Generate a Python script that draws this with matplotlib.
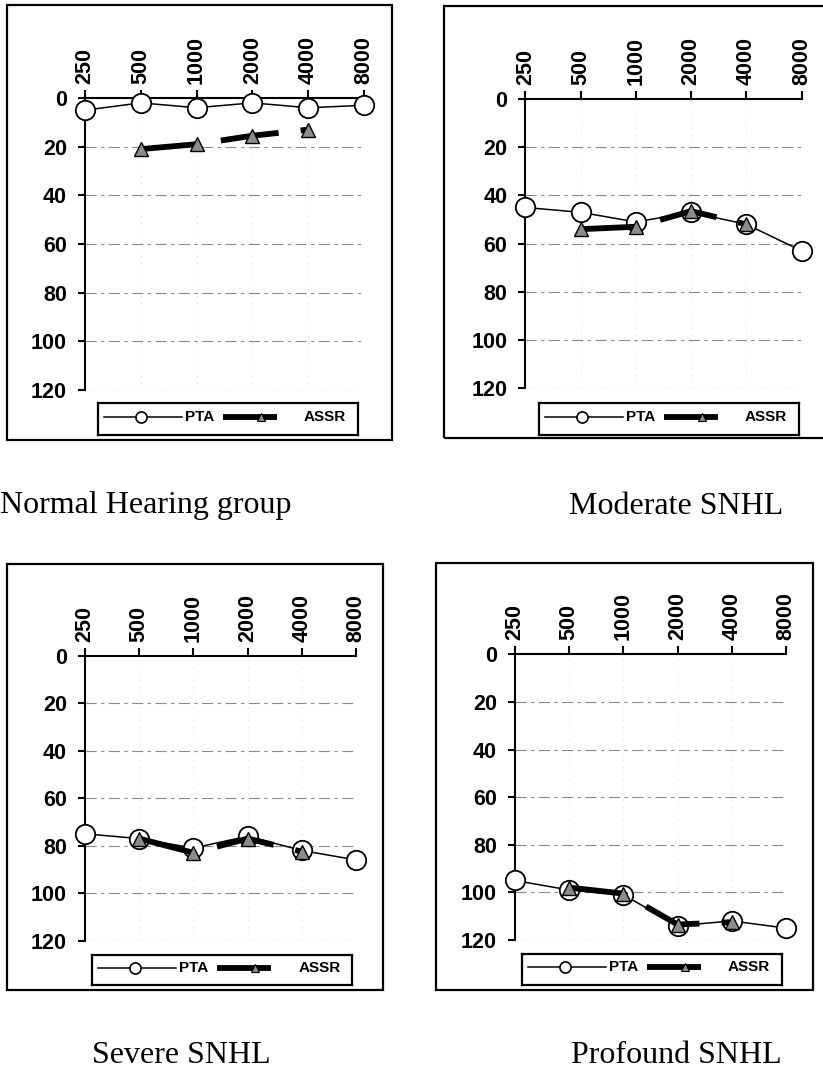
import numpy as np
import matplotlib
matplotlib.use("Agg")
import matplotlib.pyplot as plt
from matplotlib.patches import Rectangle

# ---------------- data ----------------
freqs = ['250', '500', '1000', '2000', '4000', '8000']
yticks = [0, 20, 40, 60, 80, 100, 120]

normal_pta = [5, 2, 4, 2, 4, 3]
normal_assr = [np.nan, 21, 19, 15.5, 13, np.nan]
moderate_pta = [45, 47, 51, 47, 52, 63]
moderate_assr = [np.nan, 54, 53, 46.5, 52, np.nan]
severe_pta = [75, 77, 81, 76, 82, 86]
severe_assr = [np.nan, 77, 83, 77, 82.5, np.nan]
profound_pta = [95, 99, 101, 114, 112, 115]
profound_assr = [np.nan, 98, 100.5, 113.5, 112.5, np.nan]

captions = ['Normal Hearing group', 'Moderate SNHL', 'Severe SNHL', 'Profound SNHL']
legend_labels = ['PTA', 'ASSR']

# ---------------- layout (pixels) ----------------
W, H = 823, 1070
def fx(p): return p / W
def fy(p): return 1 - p / H

panels = [
    dict(pta=normal_pta, assr=normal_assr, cap=captions[0],
         axes=(85, 98, 364, 390), box=(7, 5, 392, 440), leg=(98, 403, 358, 435),
         capxy=(0.5, 513.5), ha='left'),
    dict(pta=moderate_pta, assr=moderate_assr, cap=captions[1],
         axes=(525.3, 99, 801.7, 388.3), box=(444.3, 6, 830, 438), leg=(538.7, 403.3, 798.7, 435),
         capxy=(676.5, 513.5), ha='center'),
    dict(pta=severe_pta, assr=severe_assr, cap=captions[2],
         axes=(85, 655.7, 356, 940.7), box=(7, 564, 383, 990), leg=(92.3, 955, 352.3, 985),
         capxy=(181.7, 1063.3), ha='center'),
    dict(pta=profound_pta, assr=profound_assr, cap=captions[3],
         axes=(515, 654.3, 786, 940), box=(436, 563.3, 812.7, 990), leg=(522, 954, 782, 985),
         capxy=(676, 1063.3), ha='center'),
]

plt.rcParams['font.family'] = ['Liberation Sans', 'DejaVu Sans']

fig = plt.figure(figsize=(W / 100, H / 100), dpi=100)
fig.patch.set_facecolor('white')

x = np.arange(len(freqs))

for p in panels:
    l, t, r, b = p['axes']
    ax = fig.add_axes([fx(l), fy(b), fx(r) - fx(l), fy(t) - fy(b)])
    ax.set_xlim(0, len(freqs) - 1)
    ax.set_ylim(120, 0)

    # grid
    for yv in yticks[1:]:
        ax.axhline(yv, color='#8a8a8a', lw=0.8, ls=(0, (10, 4, 3, 4)), zorder=0)
    for xv in x[1:]:
        ax.axvline(xv, color='#c8c8c8', lw=0.6, ls=(0, (1, 7)), zorder=0)

    ax.plot(x, p['pta'], color='black', lw=1.1, marker='o', markersize=14,
            markerfacecolor='white', markeredgecolor='black', markeredgewidth=1.3,
            clip_on=False, zorder=3)
    ax.plot(x, p['assr'], color='black', lw=4.2, ls=(0, (10, 3.8)), dash_capstyle='butt',
            clip_on=False, zorder=4)
    ax.plot(x, p['assr'], ls='none', marker='^', markersize=9.5,
            markerfacecolor='#8c8c8c', markeredgecolor='black', markeredgewidth=1.0,
            clip_on=False, zorder=5)

    ax.set_xticks(x)
    ax.set_xticklabels(freqs)
    ax.set_yticks(yticks)
    ax.set_yticklabels([str(v) for v in yticks])
    ax.tick_params(axis='x', top=True, bottom=False, labeltop=True, labelbottom=False,
                   direction='out', length=6, width=1.5, pad=4, labelrotation=90,
                   labelsize=15.5)
    ax.tick_params(axis='y', left=True, direction='out', length=5, width=1.5, pad=8,
                   labelsize=15.5)
    for lab in ax.get_xticklabels() + ax.get_yticklabels():
        lab.set_fontweight('bold')
    for s in ['right', 'bottom']:
        ax.spines[s].set_visible(False)
    for s in ['left', 'top']:
        ax.spines[s].set_linewidth(1.5)
    ax.patch.set_alpha(0)

    # outer box
    x0, y0, x1, y1 = p['box']
    fig.patches.append(Rectangle((fx(x0), fy(y1)), fx(x1) - fx(x0), fy(y0) - fy(y1),
                                 transform=fig.transFigure, fill=False,
                                 edgecolor='black', lw=1.6, zorder=0))

    # legend
    lx0, ly0, lx1, ly1 = p['leg']
    lax = fig.add_axes([fx(lx0), fy(ly1), fx(lx1) - fx(lx0), fy(ly0) - fy(ly1)])
    lax.set_xlim(0, 260)
    lax.set_ylim(0, 1)
    lax.set_xticks([])
    lax.set_yticks([])
    for s in lax.spines.values():
        s.set_linewidth(1.6)
    yc = 0.57
    lax.plot([6, 84], [yc, yc], color='black', lw=1.1)
    lax.plot([43], [yc], marker='o', markersize=8, markerfacecolor='white',
             markeredgecolor='black', markeredgewidth=1.2)
    lax.text(87, yc, legend_labels[0], fontsize=11, fontweight='bold', va='center', ha='left')
    lax.plot([125, 179], [yc, yc], color='black', lw=4.2, solid_capstyle='butt')
    lax.plot([163], [yc], marker='^', markersize=6, markerfacecolor='#8c8c8c',
             markeredgecolor='black', markeredgewidth=0.8)
    lax.text(206, yc, legend_labels[1], fontsize=11, fontweight='bold', va='center', ha='left')

    # caption
    cx, cy = p['capxy']
    fig.text(fx(cx), fy(cy), p['cap'], fontsize=23, family=['Liberation Serif', 'DejaVu Serif'],
             fontweight='normal', ha=p['ha'], va='baseline')

fig.savefig('out.png', dpi=100, facecolor='white')
